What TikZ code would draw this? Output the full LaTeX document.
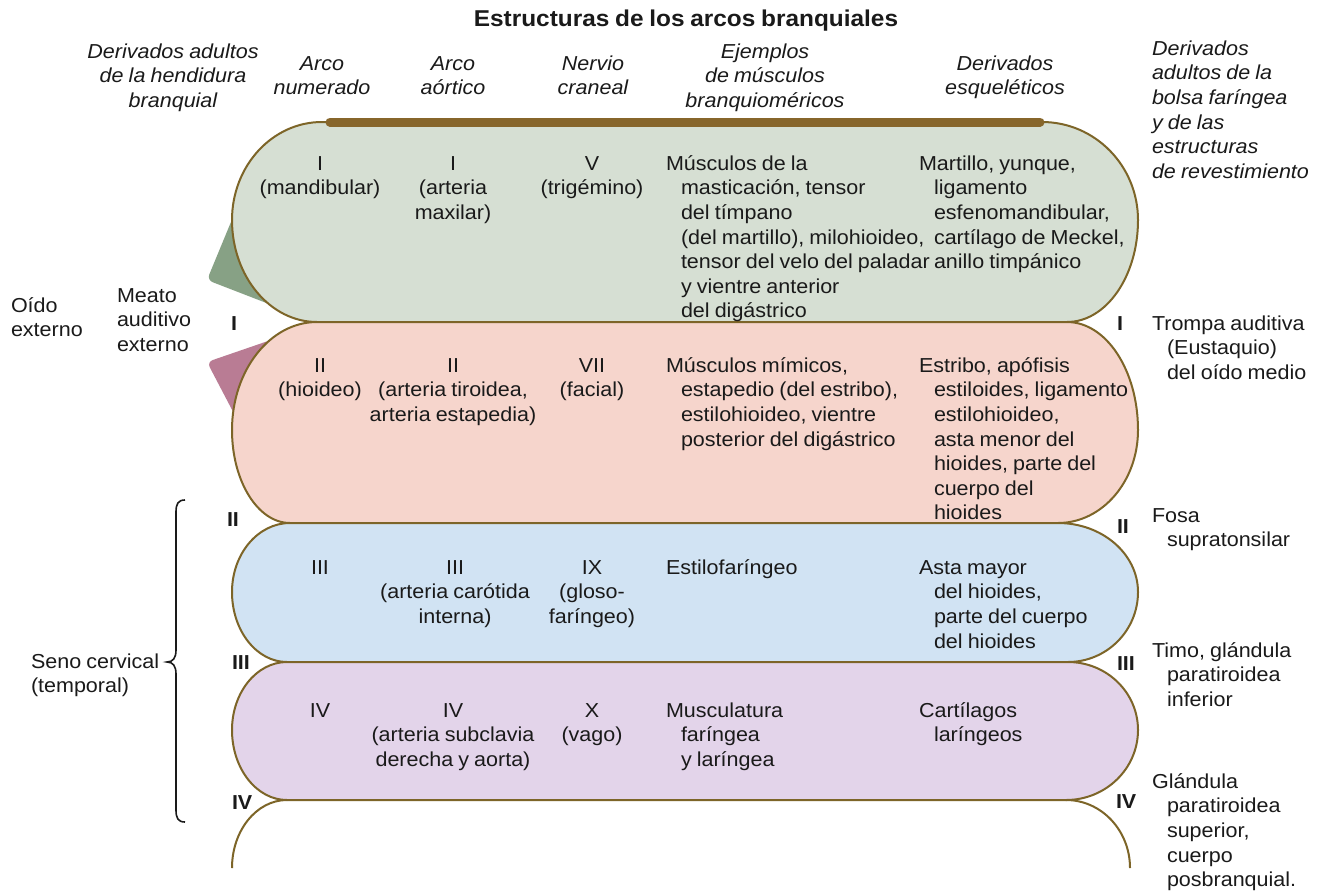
\documentclass[tikz,border=0pt]{standalone}
\usepackage{fontspec}
\setmainfont{Liberation Sans}[FakeStretch=1.065,WordSpace=0.85]
\definecolor{gfill}{HTML}{D6DFD3}
\definecolor{pfill}{HTML}{F6D5CC}
\definecolor{bfill}{HTML}{D1E3F3}
\definecolor{vfill}{HTML}{E3D4EA}
\definecolor{outl}{HTML}{7D6528}
\definecolor{barc}{HTML}{87662B}
\definecolor{gflap}{HTML}{87A185}
\definecolor{pflap}{HTML}{B97C94}
\definecolor{txtc}{HTML}{1A1A1A}
\newcommand\tf{\fontsize{20.2}{24.6}\selectfont}
\newcommand\hind{\hspace*{15pt}}
% #1 fill, #2 top, #3 mid, #4 bottom, #5 top-left x, #6 bottom-left x, #7 top-right x, #8 bottom-right x
\newcommand\bandpath[8]{%
  \path[band,fill=#1] (#5,-#2) -- (#7,-#2)
    arc[start angle=90,end angle=0,x radius={1138-#7},y radius={#3-#2}]
    arc[start angle=0,end angle=-90,x radius={1138-#8},y radius={#4-#3}]
    -- (#6,-#4)
    arc[start angle=270,end angle=180,x radius={#6-232},y radius={#4-#3}]
    arc[start angle=180,end angle=90,x radius={#5-232},y radius={#3-#2}]
    -- cycle;}
\begin{document}
\begin{tikzpicture}[x=1pt,y=1pt,
  txt/.style={inner sep=0pt,outer sep=0pt,font=\tf,text=txtc},
  ctr/.style={txt,align=center,anchor=north},
  lft/.style={txt,align=left,anchor=north west},
  hdr/.style={font=\tf\itshape},
  num/.style={inner sep=0pt,outer sep=0pt,font=\tf\bfseries,text=txtc,anchor=base west},
  band/.style={draw=outl,line width=2pt,line join=round}]
\fill[white] (0,0) rectangle (1320,-892);
\useasboundingbox (0,0) rectangle (1320,-892);

% flaps (behind the bands)
\fill[gflap,rounded corners=6pt] (238,-205) -- (207,-280) -- (300,-316) -- cycle;
\fill[pflap,rounded corners=6pt] (300,-330) -- (207,-362) -- (240,-425) -- cycle;

% bands
\bandpath{gfill}{122}{220}{322}{322}{317}{1042}{1067}
\bandpath{pfill}{322}{430}{523}{317}{290}{1067}{1058}
\bandpath{bfill}{523}{592}{662}{290}{287}{1058}{1068}
\bandpath{vfill}{662}{730}{800}{287}{287}{1068}{1066}
\draw[band] (287,-800) arc[start angle=90,end angle=180,x radius=55,y radius=68];
\draw[band] (1066,-800) arc[start angle=90,end angle=0,x radius=64,y radius=68];

% top bar
\draw[barc,line width=9pt,line cap=round] (330,-122) -- (1040,-122);

% brace
\draw[txtc,line width=1.6pt] (185,-500) .. controls (178,-500) and (176,-504) .. (176,-512)
  -- (176,-650) .. controls (176,-658) and (173,-662) .. (167,-662)
  .. controls (173,-662) and (176,-666) .. (176,-674)
  -- (176,-810) .. controls (176,-818) and (178,-822) .. (185,-822);

% title and headers
\node[txt,anchor=base,font=\fontsize{22.9}{27}\selectfont\bfseries] (title) at (686,-26) {Estructuras de los arcos branquiales};
\node[ctr,hdr] (hcleft) at (173,-41) {\strut Derivados adultos\\de la hendidura\\branquial};
\node[ctr,hdr] (hnum) at (322,-53) {\strut Arco\\numerado};
\node[ctr,hdr] (haor) at (453,-53) {\strut Arco\\aórtico};
\node[ctr,hdr] (hnerv) at (593,-53) {\strut Nervio\\craneal};
\node[ctr,hdr] (hmus) at (765,-41) {\strut Ejemplos\\de músculos\\branquioméricos};
\node[ctr,hdr] (hesq) at (1005,-53) {\strut Derivados\\esqueléticos};
\node[lft,hdr] (hright) at (1152,-38) {\strut Derivados\\adultos de la\\bolsa faríngea\\y de las\\estructuras\\de revestimiento};

% band 1
\node[ctr] (n1) at (320,-153) {\strut I\\(mandibular)};
\node[ctr] (a1) at (453,-153) {\strut I\\(arteria\\maxilar)};
\node[ctr] (c1) at (592,-153) {\strut V\\(trigémino)};
\node[lft] (m1) at (666,-153) {\strut Músculos de la\\\hind masticación, tensor\\\hind del tímpano\\\hind (del martillo), milohioideo,\\\hind tensor del velo del paladar\\\hind y vientre anterior\\\hind del digástrico};
\node[lft] (s1) at (919,-153) {\strut Martillo, yunque,\\\hind ligamento\\\hind esfenomandibular,\\\hind cartílago de Meckel,\\\hind anillo timpánico};

% band 2
\node[ctr] (n2) at (320,-355) {\strut II\\(hioideo)};
\node[ctr] (a2) at (453,-355) {\strut II\\(arteria tiroidea,\\arteria estapedia)};
\node[ctr] (c2) at (592,-355) {\strut VII\\(facial)};
\node[lft] (m2) at (666,-355) {\strut Músculos mímicos,\\\hind estapedio (del estribo),\\\hind estilohioideo, vientre\\\hind posterior del digástrico};
\node[lft] (s2) at (919,-355) {\strut Estribo, apófisis\\\hind estiloides, ligamento\\\hind estilohioideo,\\\hind asta menor del\\\hind hioides, parte del\\\hind cuerpo del\\\hind hioides};

% band 3
\node[ctr] (n3) at (320,-557) {\strut III};
\node[ctr] (a3) at (455,-557) {\strut III\\(arteria carótida\\interna)};
\node[ctr] (c3) at (592,-557) {\strut IX\\(gloso-\\faríngeo)};
\node[lft] (m3) at (666,-557) {\strut Estilofaríngeo};
\node[lft] (s3) at (919,-557) {\strut Asta mayor\\\hind del hioides,\\\hind parte del cuerpo\\\hind del hioides};

% band 4
\node[ctr] (n4) at (320,-700) {\strut IV};
\node[ctr] (a4) at (453,-700) {\strut IV\\(arteria subclavia\\derecha y aorta)};
\node[ctr] (c4) at (592,-700) {\strut X\\(vago)};
\node[lft] (m4) at (666,-700) {\strut Musculatura\\\hind faríngea\\\hind y laríngea};
\node[lft] (s4) at (919,-700) {\strut Cartílagos\\\hind laríngeos};

% left labels
\node[lft] (oido) at (11,-295) {\strut Oído\\externo};
\node[lft] (meato) at (117,-285) {\strut Meato\\auditivo\\externo};
\node[lft] (seno) at (31,-651) {\strut Seno cervical\\(temporal)};
\node[num] (lI) at (231,-330) {I};
\node[num] (lII) at (227,-526) {II};
\node[num] (lIII) at (232,-669) {III};
\node[num] (lIV) at (232,-809) {IV};

% right labels
\node[num] (rI) at (1117,-330) {I};
\node[num] (rII) at (1117,-533) {II};
\node[num] (rIII) at (1117,-670) {III};
\node[num] (rIV) at (1116,-808) {IV};
\node[lft] (trompa) at (1152,-313) {\strut Trompa auditiva\\\hind (Eustaquio)\\\hind del oído medio};
\node[lft] (fosa) at (1152,-505) {\strut Fosa\\\hind supratonsilar};
\node[lft] (timo) at (1152,-640) {\strut Timo, glándula\\\hind paratiroidea\\\hind inferior};
\node[lft] (gland) at (1152,-771) {\strut Glándula\\\hind paratiroidea\\\hind superior,\\\hind cuerpo\\\hind posbranquial.};
\end{tikzpicture}
\end{document}
